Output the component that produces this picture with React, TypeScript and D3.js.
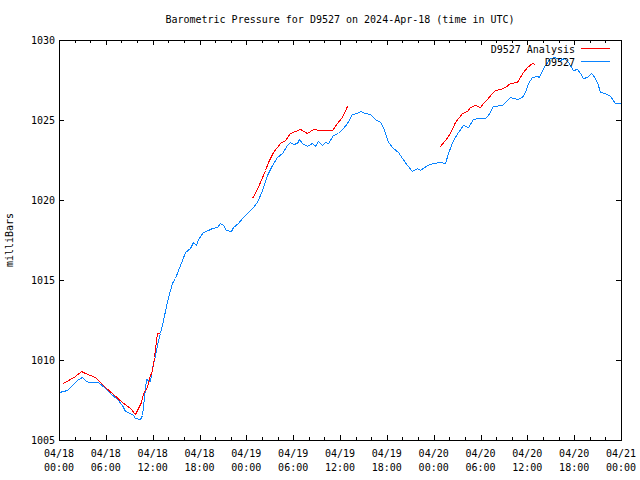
import React from "react";
import * as d3 from "d3";

const title = "Barometric Pressure for D9527 on 2024-Apr-18 (time in UTC)";
const yLabel = "milliBars";
const seriesNames = ["D9527 Analysis", "D9527"];
const yTicks = [1005, 1010, 1015, 1020, 1025, 1030];
const xTickHours = [0, 6, 12, 18, 24, 30, 36, 42, 48, 54, 60, 66, 72];
const xTickLabels = [
  ["04/18", "00:00"], ["04/18", "06:00"], ["04/18", "12:00"], ["04/18", "18:00"],
  ["04/19", "00:00"], ["04/19", "06:00"], ["04/19", "12:00"], ["04/19", "18:00"],
  ["04/20", "00:00"], ["04/20", "06:00"], ["04/20", "12:00"], ["04/20", "18:00"],
  ["04/21", "00:00"],
];

// Observed station pressure (hours since 04/18 00:00 UTC)
const obsHours = [
  0.0, 1.02, 1.67, 2.31, 2.95, 3.33, 3.72, 5.0, 5.89, 6.53, 7.43, 8.07, 8.46, 9.1, 9.48, 9.74,
  10.38, 10.63, 10.89, 11.15, 11.66, 11.91, 12.3, 12.68, 12.94, 13.32, 13.96, 14.48, 14.86, 15.25,
  15.76, 16.14, 16.78, 17.17, 17.55, 17.81, 18.45, 19.09, 19.6, 20.24, 20.63, 21.01, 21.39, 22.04,
  22.29, 22.93, 23.57, 24.21, 24.73, 25.37, 26.01, 26.65, 27.29, 27.93, 28.57, 29.21, 29.59, 29.98,
  30.49, 30.75, 31.13, 31.77, 32.41, 32.8, 33.18, 33.69, 34.08, 34.46, 35.1, 35.74, 36.38, 36.9,
  37.54, 38.18, 38.56, 39.2, 39.84, 40.48, 41.12, 41.51, 42.15, 42.79, 43.43, 43.94, 44.58, 45.22,
  45.86, 46.25, 47.15, 47.91, 48.81, 49.45, 49.83, 50.48, 51.12, 51.76, 52.4, 53.04, 53.68, 54.58,
  54.96, 55.6, 56.75, 57.14, 57.78, 58.67, 59.31, 59.7, 60.08, 60.6, 61.24, 61.49, 61.88, 62.26,
  62.9, 63.54, 64.18, 64.7, 65.21, 65.85, 66.36, 66.75, 67.13, 67.64, 68.15, 68.41, 68.92, 69.31,
  69.95, 70.59, 71.23, 72.0,
];
const obsPressure = [
  1008.0, 1008.13, 1008.44, 1008.75, 1008.94, 1008.75, 1008.63, 1008.63, 1008.25, 1007.94, 1007.56,
  1007.19, 1006.81, 1006.69, 1006.56, 1006.38, 1006.31, 1006.56, 1007.69, 1008.81, 1008.69, 1009.5,
  1010.31, 1011.25, 1011.69, 1012.5, 1013.94, 1014.81, 1015.13, 1015.63, 1016.25, 1016.75, 1017.0,
  1017.38, 1017.19, 1017.56, 1018.0, 1018.13, 1018.25, 1018.31, 1018.56, 1018.44, 1018.13, 1018.06,
  1018.31, 1018.56, 1018.94, 1019.25, 1019.5, 1019.88, 1020.63, 1021.56, 1022.19, 1022.69, 1022.94,
  1023.44, 1023.63, 1023.5, 1023.56, 1023.81, 1023.56, 1023.38, 1023.56, 1023.38, 1023.69, 1023.44,
  1023.63, 1023.56, 1024.06, 1024.19, 1024.5, 1024.81, 1025.38, 1025.44, 1025.56, 1025.44, 1025.38,
  1025.06, 1024.88, 1024.56, 1023.63, 1023.25, 1023.0, 1022.63, 1022.19, 1021.81, 1022.0, 1021.88,
  1022.19, 1022.31, 1022.38, 1022.31, 1022.94, 1023.75, 1024.25, 1024.69, 1024.56, 1025.06, 1025.13,
  1025.13, 1025.31, 1025.88, 1025.94, 1026.13, 1026.44, 1026.31, 1026.44, 1026.75, 1027.31, 1027.69,
  1027.75, 1027.69, 1028.13, 1028.44, 1028.88, 1028.94, 1028.75, 1028.88, 1028.63, 1028.13, 1028.19,
  1027.94, 1027.63, 1027.69, 1027.94, 1027.81, 1027.38, 1026.75, 1026.69, 1026.5, 1026.06, 1026.06,
];

// Analysis pressure; null marks a gap between analysis runs
const anaHours = [
  0.51, 1.41, 2.05, 2.82, 3.33, 4.61, 5.89, 6.92, 8.07, 9.1, 9.74, 10.12, 10.5, 10.76, 11.27, 11.53,
  11.91, 12.17, 12.55, 12.81, null,
  24.73, 25.11, 25.75, 26.39, 26.78, 27.42, 28.31, 28.95, 29.59, 30.23, 30.87, 31.77, 32.54, 33.44,
  34.97, 35.61, 36.26, 36.9, null,
  48.68, 49.45, 50.09, 50.73, 51.63, 52.27, 52.65, 53.29, 53.93, 54.32, 54.83, 55.47, 55.86, 56.5,
  57.14, 57.78, 58.67, 59.06, 59.44, 59.96, 60.6, 60.98,
];
const anaPressure = [
  1008.56, 1008.81, 1009.0, 1009.31, 1009.19, 1008.94, 1008.31, 1007.88, 1007.38, 1007.0, 1006.63,
  1007.0, 1007.38, 1007.94, 1008.31, 1008.88, 1009.38, 1010.19, 1011.69, 1011.69, null,
  1020.13, 1020.44, 1021.13, 1021.88, 1022.38, 1023.0, 1023.56, 1023.75, 1024.19, 1024.31, 1024.44,
  1024.19, 1024.44, 1024.38, 1024.38, 1024.81, 1025.19, 1025.88, null,
  1023.31, 1023.75, 1024.19, 1024.88, 1025.44, 1025.56, 1025.81, 1025.94, 1025.81, 1026.06, 1026.31,
  1026.69, 1026.88, 1026.94, 1027.06, 1027.31, 1027.38, 1027.69, 1028.0, 1028.31, 1028.56, 1028.5,
];

const W = 640;
const H = 480;
const left = 59;
const right = 621;
const top = 40;
const bottom = 440;
const font = "'DejaVu Sans Mono', monospace";
const fs = 10;
const red = "#ff0000";
const blue = "#0a84ff";

export default function App() {
  const x = d3.scaleLinear().domain([0, 72]).range([left, right]);
  const y = d3.scaleLinear().domain([1005, 1030]).range([bottom, top]);

  const obs = obsHours.map((h, i) => [h, obsPressure[i]] as [number, number]);
  const ana = anaHours.map((h, i) => [h, anaPressure[i]] as [number | null, number | null]);

  const line = d3
    .line<[number | null, number | null]>()
    .defined((d) => d[0] != null && d[1] != null)
    .x((d) => Math.round(x(d[0] as number)) + 0.5)
    .y((d) => Math.round(y(d[1] as number)) + 0.5);

  const minorHours = d3.range(0, 73, 2);

  return (
    <svg
      width={W}
      height={H}
      style={{ position: "absolute", left: 0, top: 0, background: "#fff" }}
      fontFamily={font}
      fontSize={fs}
    >
      <rect x={0} y={0} width={W} height={H} fill="#fff" />
      <text x={340} y={23} textAnchor="middle" fill="#000">
        {title}
      </text>

      {/* x ticks: minor every 2h, major every 6h, top and bottom */}
      <g stroke="#000" shapeRendering="crispEdges">
        {minorHours.map((h) => {
          const len = h % 6 === 0 ? 5 : 3;
          const xx = Math.round(x(h)) + 0.5;
          return (
            <g key={h}>
              <line x1={xx} x2={xx} y1={bottom} y2={bottom - len} />
              <line x1={xx} x2={xx} y1={top} y2={top + len} />
            </g>
          );
        })}
        {yTicks.map((v) => {
          const yy = Math.round(y(v)) + 0.5;
          return (
            <g key={v}>
              <line x1={left} x2={left + 5} y1={yy} y2={yy} />
              <line x1={right} x2={right - 5} y1={yy} y2={yy} />
            </g>
          );
        })}
      </g>

      {yTicks.map((v) => (
        <text key={v} x={55} y={y(v) + 4} textAnchor="end" fill="#000">
          {v}
        </text>
      ))}

      {xTickHours.map((h, i) => (
        <g key={h}>
          <text x={x(h)} y={457} textAnchor="middle" fill="#000">
            {xTickLabels[i][0]}
          </text>
          <text x={x(h)} y={471} textAnchor="middle" fill="#000">
            {xTickLabels[i][1]}
          </text>
        </g>
      ))}

      <text
        transform={`translate(13, ${(top + bottom) / 2}) rotate(-90)`}
        textAnchor="middle"
        fill="#000"
      >
        {yLabel}
      </text>

      <path d={line(obs) || ""} fill="none" stroke={blue} strokeWidth={1} shapeRendering="crispEdges" />
      <path d={line(ana) || ""} fill="none" stroke={red} strokeWidth={1} shapeRendering="crispEdges" />

      {/* legend */}
      <text x={575} y={53} textAnchor="end" fill="#000">
        {seriesNames[0]}
      </text>
      <line x1={581} x2={610} y1={48.5} y2={48.5} stroke={red} shapeRendering="crispEdges" />
      <text x={575} y={66} textAnchor="end" fill="#000">
        {seriesNames[1]}
      </text>
      <line x1={581} x2={610} y1={61.5} y2={61.5} stroke={blue} shapeRendering="crispEdges" />

      <rect
        x={left + 0.5}
        y={top + 0.5}
        width={right - left}
        height={bottom - top}
        fill="none"
        stroke="#000"
        shapeRendering="crispEdges"
      />
    </svg>
  );
}
